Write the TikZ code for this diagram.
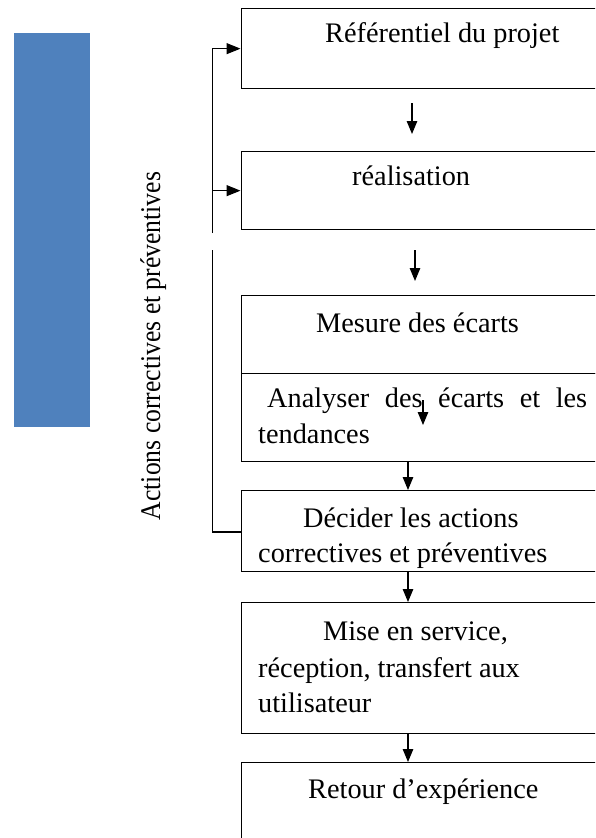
\documentclass[tikz,border=0pt]{standalone}
\usepackage{fontspec}
\setmainfont{Liberation Serif}
\usetikzlibrary{arrows.meta}
\definecolor{barblue}{HTML}{4F81BD}
\begin{document}
\begin{tikzpicture}[x=1pt,y=-1pt,
  stagebox/.style={draw,line width=1.3pt,rectangle,anchor=north west,inner sep=0pt},
  lbl/.style={anchor=base west,inner sep=0pt,font=\fontsize{28.3}{36}\selectfont},
  flow/.style={line width=1.2pt,-{Triangle[length=13pt,width=10.5pt]}},
  sidetip/.style={line width=1.2pt,-{Triangle[length=14pt,width=11pt]}},
  loop/.style={line width=1.2pt}]
\useasboundingbox (0,0) rectangle (595,838);
\clip (0,0) rectangle (595,838);

% coloured bar on the left
\fill[barblue] (14,33) rectangle (90,427);

% vertical caption, set slightly narrow
\node[rotate=90,anchor=base,inner sep=0pt,font=\fontsize{28.5}{32}\selectfont] (cap) at (160,346)
  {\scalebox{0.9}[1]{Actions correctives et préventives}};

% stage boxes (they run past the right and bottom edges)
\node[stagebox,minimum width=370pt,minimum height=80pt]  (ref)  at (240.5,8)   {};
\node[stagebox,minimum width=370pt,minimum height=78pt]  (real) at (240.5,151) {};
\node[stagebox,minimum width=370pt,minimum height=78pt]  (mes)  at (240.5,295) {};
\node[stagebox,minimum width=370pt,minimum height=88pt]  (ana)  at (240.5,373) {};
\node[stagebox,minimum width=370pt,minimum height=81pt]  (dec)  at (240.5,490) {};
\node[stagebox,minimum width=370pt,minimum height=131pt] (mise) at (240.5,602) {};
\node[stagebox,minimum width=370pt,minimum height=120pt] (ret)  at (240.5,762) {};

% texts
\node[lbl] (tref)  at (325,42)  {Référentiel du projet};
\node[lbl] (treal) at (352,185) {réalisation};
\node[lbl] (tmes)  at (316,332) {Mesure des écarts};
\node[lbl] (tana1) at (267,407) {\makebox[320pt][s]{Analyser des écarts et les}};
\node[lbl] (tana2) at (258,443) {tendances};
\node[lbl] (tdec1) at (303,527) {Décider les actions};
\node[lbl] (tdec2) at (258,562) {correctives et préventives};
\node[lbl] (tmis1) at (323,640) {Mise en service,};
\node[lbl] (tmis2) at (258,677) {réception, transfert aux};
\node[lbl] (tmis3) at (258,712) {utilisateur};
\node[lbl] (tret)  at (308,798) {Retour d’expérience};

% loose arrow ends in the gaps
\coordinate (a1s) at (412,103); \coordinate (a1e) at (412,134);
\coordinate (a2s) at (415,250); \coordinate (a2e) at (415,281);
\coordinate (a3s) at (423,400); \coordinate (a3e) at (423,425);

\draw[flow] (a1s) -- (a1e);
\draw[flow] (a2s) -- (a2e);
\draw[flow] (a3s) -- (a3e);
\draw[flow] (ana.south west -| 408,0) -- (dec.north west -| 408,0);
\draw[flow] (dec.south west -| 408,0) -- (mise.north west -| 408,0);
\draw[flow] (mise.south west -| 408,0) -- (ret.north west -| 408,0);

% feedback loop on the left
\coordinate (lt) at (212.7,233);
\coordinate (lb) at (212.7,250);
\draw[sidetip] (lt) |- (ref.west);
\draw[sidetip] (lt |- real.west) -- (real.west);
\draw[loop] (lb) |- (240.5,532);
\end{tikzpicture}
\end{document}
